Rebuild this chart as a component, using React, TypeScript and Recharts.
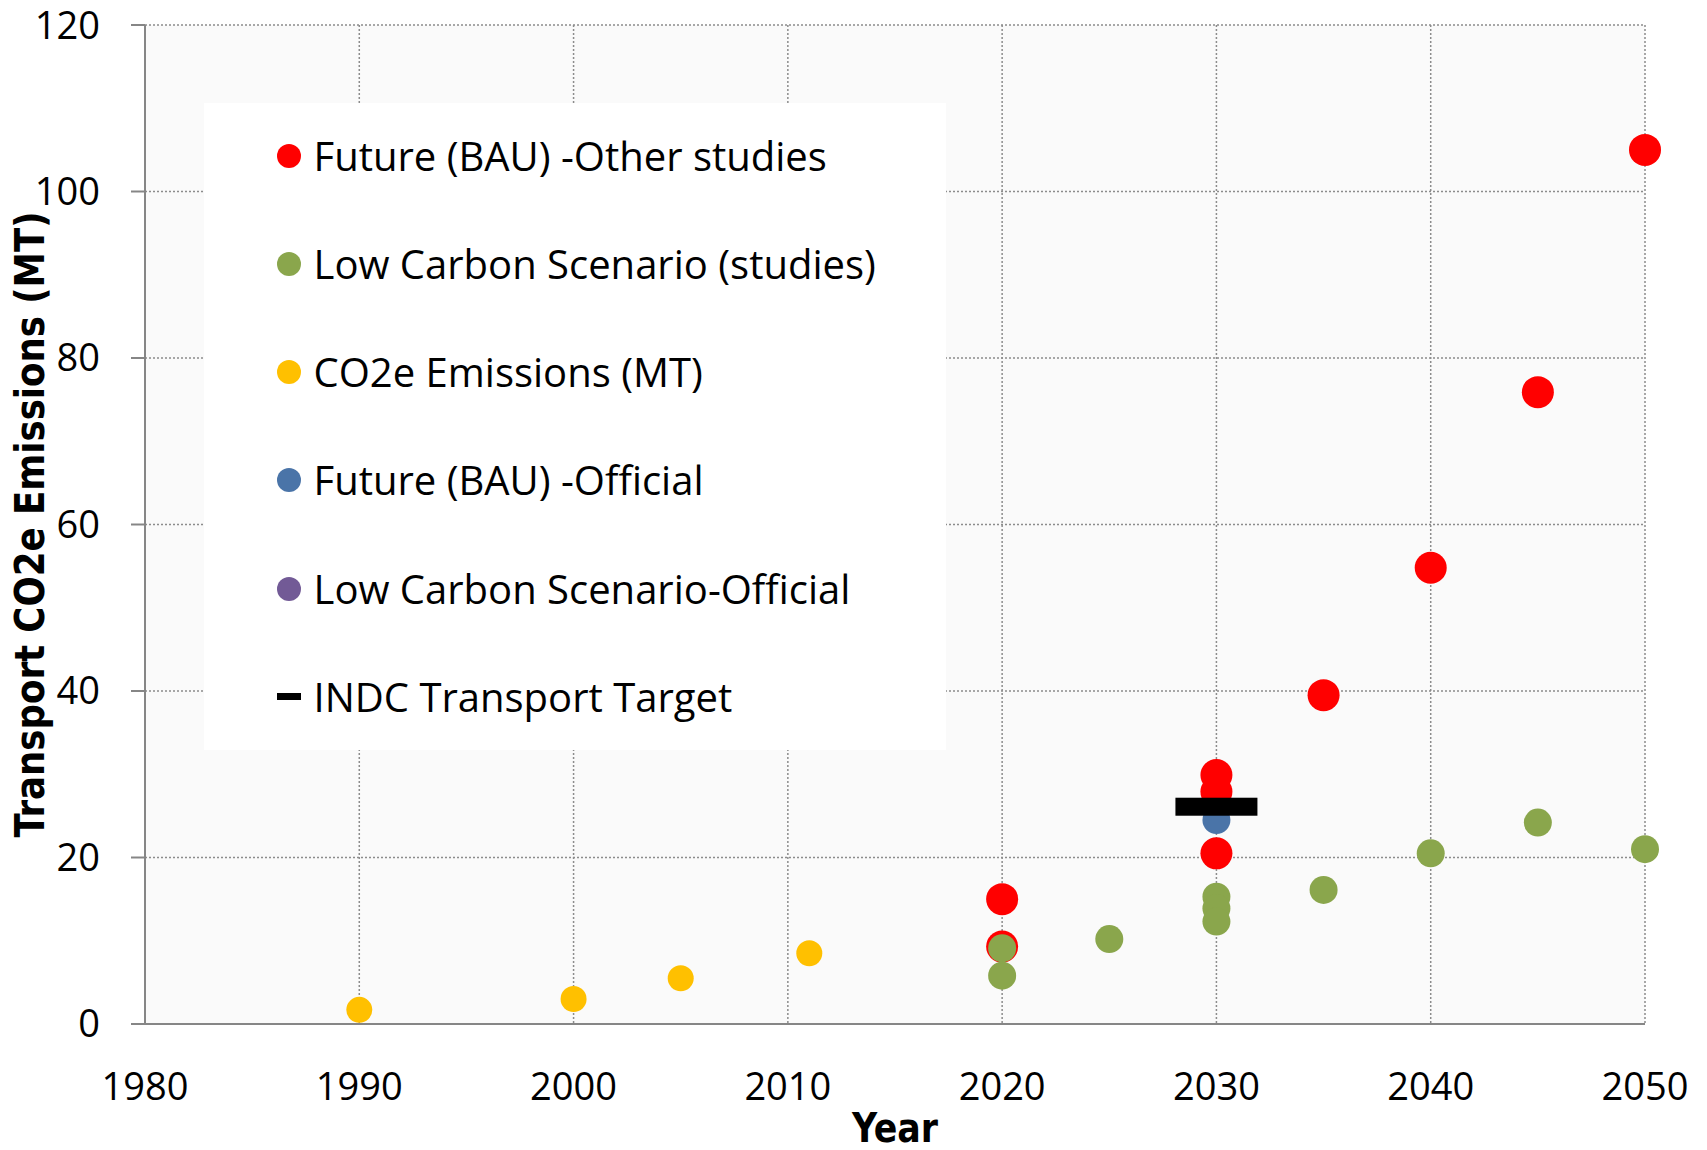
import React from 'react';
import { ScatterChart, Scatter, XAxis, YAxis, CartesianGrid, Legend } from 'recharts';

const xTicks = [1980, 1990, 2000, 2010, 2020, 2030, 2040, 2050];
const yTicks = [0, 20, 40, 60, 80, 100, 120];

const bauOtherYears = [2020, 2020, 2030, 2030, 2030, 2035, 2040, 2045, 2050];
const bauOtherValues = [15.0, 9.3, 29.9, 27.9, 20.5, 39.5, 54.8, 75.9, 105.0];

const lowCarbonYears = [2020, 2020, 2025, 2030, 2030, 2030, 2035, 2040, 2045, 2050];
const lowCarbonValues = [9.1, 5.8, 10.2, 15.3, 13.9, 12.3, 16.1, 20.5, 24.2, 21.0];

const emissionsYears = [1990, 2000, 2005, 2011];
const emissionsValues = [1.7, 3.0, 5.5, 8.5];

const bauOfficialYears = [2030];
const bauOfficialValues = [24.5];

const lowCarbonOfficialYears: number[] = [];
const lowCarbonOfficialValues: number[] = [];

const indcYears = [2030];
const indcValues = [26.1];

const seriesNames = [
  'Future (BAU) -Other studies',
  'Low Carbon Scenario (studies)',
  'CO2e Emissions (MT)',
  'Future (BAU) -Official',
  'Low Carbon Scenario-Official',
  'INDC Transport Target',
];
const seriesColors = ['#FF0000', '#8AA64C', '#FFC000', '#4A74A8', '#725A96', '#000000'];

const toPoints = (xs: number[], ys: number[]) => xs.map((x, i) => ({ x, y: ys[i] }));

const bauOther = toPoints(bauOtherYears, bauOtherValues);
const lowCarbon = toPoints(lowCarbonYears, lowCarbonValues);
const emissions = toPoints(emissionsYears, emissionsValues);
const bauOfficial = toPoints(bauOfficialYears, bauOfficialValues);
const lowCarbonOfficial = toPoints(lowCarbonOfficialYears, lowCarbonOfficialValues);
const indc = toPoints(indcYears, indcValues);

const FONT = "'Open Sans', 'Noto Sans', sans-serif";
const BOLD_FONT = "'Liberation Sans Narrow', 'DejaVu Sans Condensed', 'Liberation Sans', sans-serif";

const dot = (r: number, color: string) => (props: any) => (
  <circle cx={props.cx} cy={props.cy} r={r} fill={color} />
);

const bar = (props: any) => (
  <rect x={props.cx - 41} y={props.cy - 9} width={82} height={18} fill="#000" />
);

const LegendBox = () => (
  <div style={{ position: 'relative', width: 742, height: 647, background: '#fff' }}>
    {seriesNames.map((name, i) => (
      <div
        key={name}
        style={{
          position: 'absolute',
          left: 0,
          top: 52.7 + i * 108.2,
          transform: 'translateY(-50%)',
          display: 'flex',
          alignItems: 'center',
          whiteSpace: 'nowrap',
        }}
      >
        <div style={{ width: 84.5 - 12, flex: 'none' }} />
        {i === 5 ? (
          <div style={{ width: 24, height: 7, background: '#000', flex: 'none' }} />
        ) : (
          <div
            style={{ width: 24, height: 24, borderRadius: 12, background: seriesColors[i], flex: 'none' }}
          />
        )}
        <span
          style={{
            marginLeft: 13,
            fontFamily: FONT,
            fontSize: 40,
            color: '#000',
            lineHeight: 1,
          }}
        >
          {name}
        </span>
      </div>
    ))}
  </div>
);

export default function App() {
  return (
    <div style={{ position: 'absolute', left: 0, top: 0, width: 1707, height: 1150, background: '#fff' }}>
      <ScatterChart width={1707} height={1150} margin={{ top: 25, right: 62, bottom: 0, left: 0 }}>
        <CartesianGrid
          fill="#FAFAFA"
          stroke="#8C8C8C"
          strokeWidth={1.5}
          strokeDasharray="2 2"
        />
        <XAxis
          type="number"
          dataKey="x"
          domain={[1980, 2050]}
          ticks={xTicks}
          interval={0}
          height={126}
          axisLine={{ stroke: '#868686', strokeWidth: 2 }}
          tickLine={false}
          tickSize={0}
          tickMargin={49}
          tick={{ fill: '#000', fontSize: 38, fontFamily: FONT }}
          label={{
            content: (props: any) => {
              const vb = props.viewBox || {};
              const cx = vb.x + vb.width / 2;
              return (
                <text
                  x={cx}
                  y={vb.y + 118}
                  textAnchor="middle"
                  fontFamily={BOLD_FONT}
                  fontWeight="bold"
                  fontSize={40}
                  fill="#000"
                  textLength={86}
                  lengthAdjust="spacingAndGlyphs"
                >
                  Year
                </text>
              );
            },
          }}
        />
        <YAxis
          type="number"
          dataKey="y"
          domain={[0, 120]}
          ticks={yTicks}
          interval={0}
          width={145}
          axisLine={{ stroke: '#868686', strokeWidth: 2 }}
          tickLine={{ stroke: '#868686', strokeWidth: 2 }}
          tickSize={14}
          tickMargin={31}
          tick={{ fill: '#000', fontSize: 38, fontFamily: FONT }}
          label={{
            content: (props: any) => {
              const vb = props.viewBox || {};
              const cx = vb.x + 30;
              const cy = vb.y + vb.height / 2;
              return (
                <text
                  x={cx}
                  y={cy}
                  transform={`rotate(-90 ${cx} ${cy})`}
                  textAnchor="middle"
                  dominantBaseline="central"
                  fontFamily={BOLD_FONT}
                  fontWeight="bold"
                  fontSize={41}
                  fill="#000"
                  textLength={626}
                  lengthAdjust="spacingAndGlyphs"
                >
                  Transport CO2e Emissions (MT)
                </text>
              );
            },
          }}
        />
        <Legend
          layout="vertical"
          align="center"
          verticalAlign="middle"
          content={() => <LegendBox />}
          wrapperStyle={{ left: 204, top: 103, width: 742, height: 647 }}
        />
        <Scatter name={seriesNames[0]} data={bauOther} fill={seriesColors[0]} shape={dot(16, seriesColors[0])} isAnimationActive={false} />
        <Scatter name={seriesNames[1]} data={lowCarbon} fill={seriesColors[1]} shape={dot(14, seriesColors[1])} isAnimationActive={false} />
        <Scatter name={seriesNames[2]} data={emissions} fill={seriesColors[2]} shape={dot(13, seriesColors[2])} isAnimationActive={false} />
        <Scatter name={seriesNames[3]} data={bauOfficial} fill={seriesColors[3]} shape={dot(14, seriesColors[3])} isAnimationActive={false} />
        <Scatter name={seriesNames[4]} data={lowCarbonOfficial} fill={seriesColors[4]} shape={dot(14, seriesColors[4])} isAnimationActive={false} />
        <Scatter name={seriesNames[5]} data={indc} fill={seriesColors[5]} shape={bar} isAnimationActive={false} />
      </ScatterChart>
    </div>
  );
}
